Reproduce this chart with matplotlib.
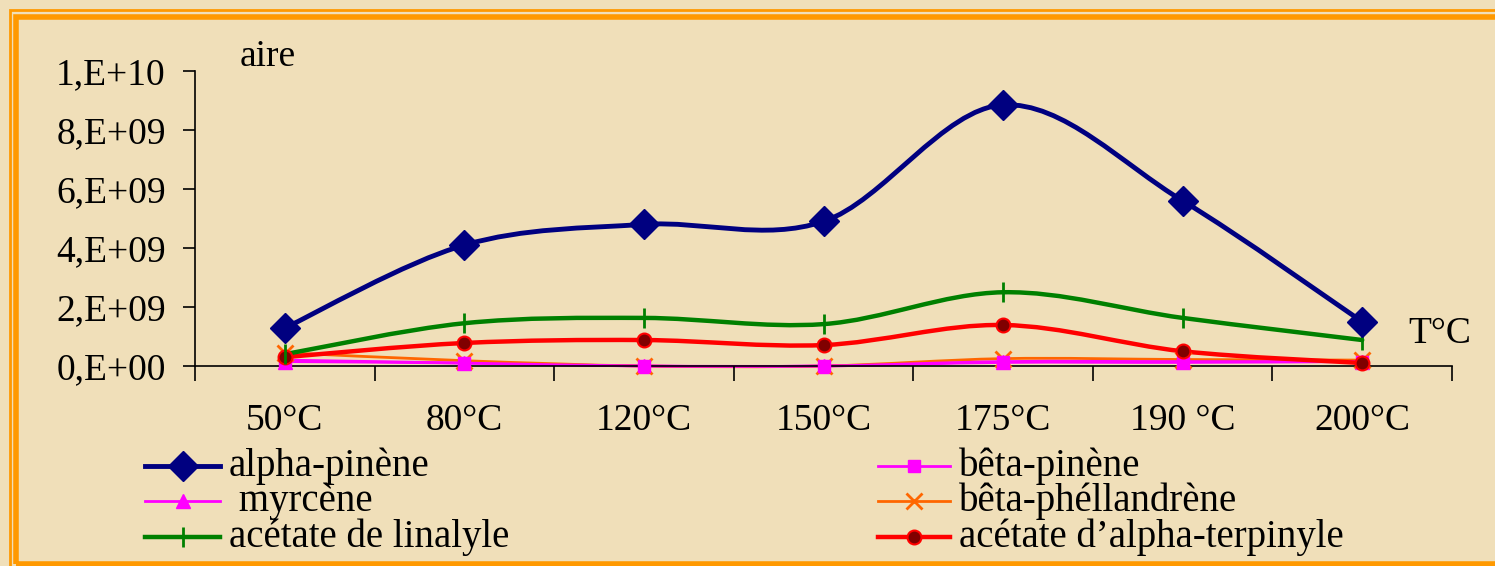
import matplotlib.pyplot as plt
import numpy as np
from matplotlib.path import Path
from matplotlib.patches import PathPatch, Rectangle
from matplotlib.lines import Line2D

# data
temperatures = ["50°C", "80°C", "120°C", "150°C", "175°C", "190 °C", "200°C"]
alpha_pinene = [1.29e9, 4.1e9, 4.8e9, 4.9e9, 8.85e9, 5.6e9, 1.5e9]
beta_pinene = [0.2e9, 0.1e9, 0.0, 0.0, 0.15e9, 0.15e9, 0.15e9]
myrcene = [0.15e9, 0.1e9, 0.0, 0.0, 0.12e9, 0.12e9, 0.15e9]
beta_phellandrene = [0.45e9, 0.18e9, 0.0, 0.0, 0.25e9, 0.22e9, 0.2e9]
acetate_linalyle = [0.4e9, 1.45e9, 1.63e9, 1.42e9, 2.5e9, 1.63e9, 0.88e9]
acetate_terpinyle = [0.3e9, 0.78e9, 0.88e9, 0.71e9, 1.39e9, 0.5e9, 0.1e9]

y_ticks = [0, 2e9, 4e9, 6e9, 8e9, 1e10]
y_tick_labels = ["0,E+00", "2,E+09", "4,E+09", "6,E+09", "8,E+09", "1,E+10"]

plt.rcParams['font.family'] = ['Liberation Serif', 'DejaVu Serif']
bg = "#F0DFB9"
orange = "#FF9900"
fs = 27
fs_leg = 28

W, H = 1495, 566
fig = plt.figure(figsize=(W / 100, H / 100), dpi=100, facecolor=bg)

# double orange frame (runs off the right and bottom edges like the reference)
fig.add_artist(Rectangle((9.5 / W, 1 - 572 / H), 1.2, (572 - 9.5) / H, transform=fig.transFigure,
                         fill=False, edgecolor=orange, linewidth=2))
fig.add_artist(Rectangle((15.5 / W, 1 - 564 / H), 1.2, (564 - 16.5) / H, transform=fig.transFigure,
                         fill=False, edgecolor=orange, linewidth=4))

ax = fig.add_axes([195 / W, 1 - 366 / H, (1452 - 195) / W, (366 - 71) / H])
ax.set_facecolor("none")


def smooth_line(values, color, lw):
    # excel-like smoothed line: catmull-rom segments as cubic bezier curves
    x = np.arange(len(values), dtype=float)
    y = np.array(values, dtype=float)
    pts = np.column_stack([x, y])
    ext = np.vstack([pts[0], pts, pts[-1]])
    verts = [pts[0]]
    codes = [Path.MOVETO]
    for i in range(len(pts) - 1):
        p0, p1, p2, p3 = ext[i], ext[i + 1], ext[i + 2], ext[i + 3]
        verts += [p1 + (p2 - p0) / 6, p2 - (p3 - p1) / 6, p2]
        codes += [Path.CURVE4] * 3
    ax.add_patch(PathPatch(Path(verts, codes), fill=False, edgecolor=color,
                           linewidth=lw, capstyle="round", joinstyle="round", clip_on=False))


# name -> values, color, lw, marker, ms, face, edge, mew
styles = {
    "myrcene": (myrcene, "#FF00FF", 2, "^", 10, "#FF00FF", "#FF00FF", 1),
    "phell": (beta_phellandrene, "#FF6600", 2, "x", 11, "#FF6600", "#FF6600", 2),
    "bpinene": (beta_pinene, "#FF00FF", 2, "s", 9, "#FF00FF", "#FF00FF", 1),
    "terpinyle": (acetate_terpinyle, "#FF0000", 3.2, "o", 10, "#800000", "#FF0000", 1.5),
    "linalyle": (acetate_linalyle, "#008000", 3.2, "|", 14, "#008000", "#008000", 2),
    "alpha": (alpha_pinene, "#000080", 3.5, "D", 15, "#000080", "#000080", 1),
}
x = np.arange(len(temperatures))
for key, (vals, col, lw, mk, ms, fc, ec, mew) in styles.items():
    smooth_line(vals, col, lw)
    ax.plot(x, vals, linestyle="none", marker=mk, markersize=ms, markerfacecolor=fc,
            markeredgecolor=ec, markeredgewidth=mew, clip_on=False, zorder=3)

ax.set_xlim(-0.5, len(temperatures) - 0.5)
ax.set_ylim(0, 1e10)
ax.spines["top"].set_visible(False)
ax.spines["right"].set_visible(False)
for s in ("left", "bottom"):
    ax.spines[s].set_linewidth(1.2)
    ax.spines[s].set_color("black")

ax.set_yticks(y_ticks)
ax.set_yticklabels(y_tick_labels)
ax.set_xticks(np.arange(len(temperatures) + 1) - 0.5, minor=False)
ax.set_xticklabels([])
ax.set_xticks(x, minor=True)
ax.set_xticklabels(temperatures, minor=True)
ax.tick_params(axis="y", direction="out", length=9, width=1.2, pad=12, labelsize=fs)
ax.tick_params(axis="x", which="major", direction="out", length=11, width=1.2)
ax.tick_params(axis="x", which="minor", length=0, pad=27, labelsize=fs)

fig.text(240 / W, 1 - 57 / H, "aire", fontsize=fs, va="center", ha="left")
fig.text(1408 / W, 1 - 343 / H, "T°C", fontsize=fs, va="baseline", ha="left")

# legend, two columns drawn by hand
legend_rows = [
    (145, 220, 466, "alpha-pinène", "alpha"),
    (145, 220, 501, " myrcène", "myrcene"),
    (145, 220, 537, "acétate de linalyle", "linalyle"),
    (878, 950, 466, "bêta-pinène", "bpinene"),
    (878, 950, 501, "bêta-phéllandrène", "phell"),
    (878, 950, 537, "acétate d\u2019alpha-terpinyle", "terpinyle"),
]
for x0, x1, yy, label, key in legend_rows:
    vals, col, lw, mk, ms, fc, ec, mew = styles[key]
    yf = 1 - yy / H
    fig.add_artist(Line2D([x0 / W, x1 / W], [yf, yf], transform=fig.transFigure, color=col,
                          linewidth=lw))
    fig.add_artist(Line2D([(x0 + x1) / 2 / W], [yf], transform=fig.transFigure, linestyle="none",
                          marker=mk, markersize=ms, markerfacecolor=fc, markeredgecolor=ec,
                          markeredgewidth=mew))
    fig.text((x1 + 9) / W, yf, label, fontsize=fs_leg, va="center", ha="left")

fig.savefig("out.png", dpi=100, facecolor=bg)
